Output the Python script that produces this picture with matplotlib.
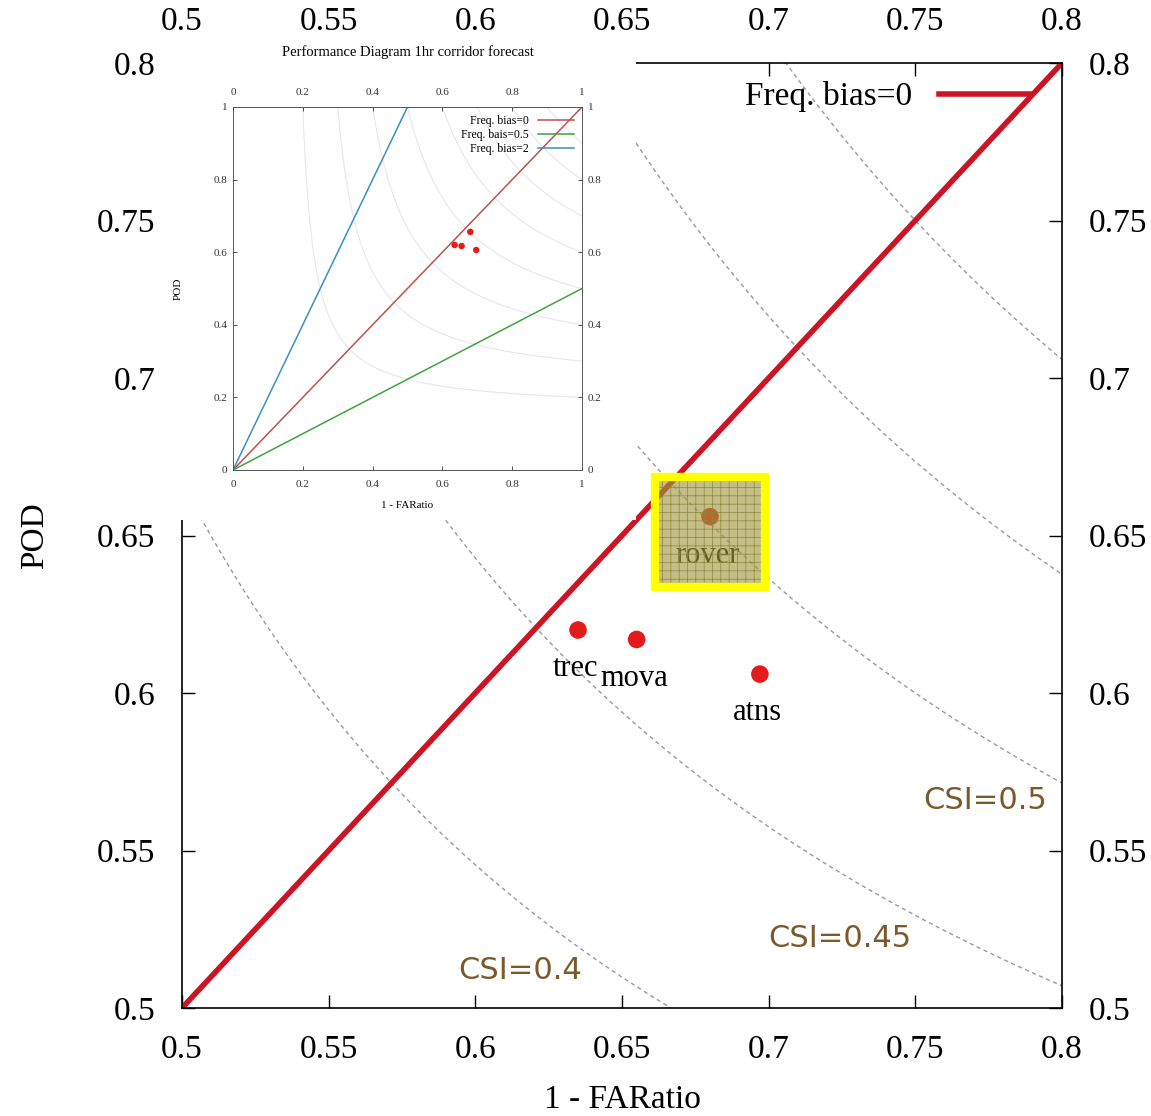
import matplotlib
matplotlib.use('Agg')
import matplotlib.pyplot as plt
import numpy as np
from matplotlib.patches import Rectangle

plt.rcParams['font.family'] = ['Liberation Serif', 'DejaVu Serif']
plt.rcParams['hatch.linewidth'] = 0.5

# forecast systems: success ratio (1 - FAR) and POD
models = ['trec', 'mova', 'rover', 'atns']
success_ratio = [0.635, 0.655, 0.680, 0.697]
pod = [0.620, 0.617, 0.656, 0.606]

# CSI isolines shown in the zoomed view and in the small overview
csi_main = [0.4, 0.45, 0.5, 0.55, 0.6]
csi_inset = [0.2, 0.3, 0.4, 0.5, 0.6, 0.7, 0.8, 0.9]

# frequency bias lines in the overview (labels as written in the original)
bias_values = [1, 0.5, 2]
bias_labels = ['Freq. bias=0', 'Freq. bais=0.5', 'Freq. bias=2']
bias_colors = ['#c0504d', '#3fa33f', '#3a8fc8']

main_ticks = [0.5, 0.55, 0.6, 0.65, 0.7, 0.75, 0.8]
main_ticklabels = ['0.5', '0.55', '0.6', '0.65', '0.7', '0.75', '0.8']
inset_ticks = [0, 0.2, 0.4, 0.6, 0.8, 1]
inset_ticklabels = ['0', '0.2', '0.4', '0.6', '0.8', '1']

W, H = 1151, 1116


def box(x0, y0, x1, y1):
    # pixel box -> figure fraction
    return [x0 / W, 1 - y1 / H, (x1 - x0) / W, (y1 - y0) / H]


fig = plt.figure(figsize=(W / 100, H / 100), dpi=100)

# ---- main (zoomed) panel ----
ax = fig.add_axes(box(182, 63, 1062, 1008))
ax.set_zorder(0)
ax.set_xlim(0.5, 0.8)
ax.set_ylim(0.5, 0.8)

sr = np.linspace(0.5, 0.8, 400)
for c in csi_main:
    ax.plot(sr, 1 / (1 / c + 1 - 1 / sr), color='#9a9a9a', lw=1,
            ls=(0, (3, 2.5)), zorder=1)

ax.axline((0, 0), slope=1, color='#cc1424', lw=4, label='Freq. bias=0', zorder=2)
ax.scatter(success_ratio, pod, s=160, color='#e31b1b', edgecolors='none', zorder=3)
for name, x, y in zip(models, success_ratio, pod):
    ax.annotate(name, (x, y), xytext=(-2, -28), textcoords='offset points',
                ha='center', va='center', fontsize=22)

ax.text(0.7738, 0.566, 'CSI=0.5', family='DejaVu Sans', fontsize=22,
        color='#7a5a2a', ha='center', va='center')
ax.text(0.7243, 0.5222, 'CSI=0.45', family='DejaVu Sans', fontsize=22,
        color='#7a5a2a', ha='center', va='center')
ax.text(0.6152, 0.512, 'CSI=0.4', family='DejaVu Sans', fontsize=22,
        color='#7a5a2a', ha='center', va='center')

# highlight box around rover
i = models.index('rover')
bw, bh = 0.0378, 0.035
bx, by = success_ratio[i] - bw / 2, pod[i] - 0.005 - bh / 2
ax.add_patch(Rectangle((bx, by), bw, bh, facecolor=(0.63, 0.60, 0.25, 0.62),
                       edgecolor='#8c8636', hatch='++', lw=0, zorder=4))
ax.add_patch(Rectangle((bx, by), bw, bh, fill=False, edgecolor='#ffff00',
                       lw=6, zorder=5))

ax.set_xticks(main_ticks)
ax.set_xticklabels(main_ticklabels)
ax.set_yticks(main_ticks)
ax.set_yticklabels(main_ticklabels)
ax.tick_params(direction='in', length=9.5, width=1, top=True, right=True,
               labeltop=True, labelright=True, labelsize=24, pad=19)
for s in ax.spines.values():
    s.set_linewidth(1.2)
ax.set_xlabel('1 - FARatio', fontsize=24, labelpad=14)
ax.set_ylabel('POD', fontsize=24, labelpad=34)
ax.legend(loc='upper right', frameon=False, markerfirst=False, fontsize=24,
          handlelength=2.7, borderaxespad=0.15, bbox_to_anchor=(0.983, 1))

# ---- white backing for the overview picture ----
bg = fig.add_axes(box(165, 40, 636, 520))
bg.set_zorder(5)
bg.set_facecolor('white')
bg.set_xticks([])
bg.set_yticks([])
for s in bg.spines.values():
    s.set_visible(False)

# ---- overview panel ----
ins = fig.add_axes(box(233, 107, 582, 470))
ins.set_zorder(6)
ins.set_xlim(0, 1)
ins.set_ylim(0, 1)

sr_i = np.linspace(0.01, 1, 600)
for c in csi_inset:
    d = 1 / c + 1 - 1 / sr_i
    p = np.where(d > 0, 1 / np.where(d > 0, d, 1), np.nan)
    p[p > 1.01] = np.nan
    ins.plot(sr_i, p, color='#e6e7ef', lw=0.8, zorder=1)

for b, lab, col in zip(bias_values, bias_labels, bias_colors):
    ins.axline((0, 0), slope=b, color=col, lw=1.1, label=lab, zorder=2)
ins.scatter(success_ratio, pod, s=22, color='#e31b1b', edgecolors='none', zorder=3)

ins.set_xticks(inset_ticks)
ins.set_xticklabels(inset_ticklabels)
ins.set_yticks(inset_ticks)
ins.set_yticklabels(inset_ticklabels)
ins.tick_params(direction='in', length=3, width=0.6, top=True, right=True,
                labeltop=True, labelright=True, labelsize=8, colors='#333333')
ins.tick_params(axis='x', pad=7)
ins.tick_params(axis='y', pad=4)
for s in ins.spines.values():
    s.set_linewidth(0.7)
    s.set_color('#555555')
ins.set_title('Performance Diagram 1hr corridor forecast', fontsize=10.5,
              y=1.14, pad=0)
ins.set_xlabel('1 - FARatio', fontsize=8, labelpad=9)
ins.set_ylabel('POD', fontsize=8, labelpad=22)
ins.legend(loc='upper right', frameon=False, markerfirst=False, fontsize=8.5,
           handlelength=3.0, labelspacing=0.15, borderaxespad=0.3)

fig.savefig('out.png', dpi=100)
